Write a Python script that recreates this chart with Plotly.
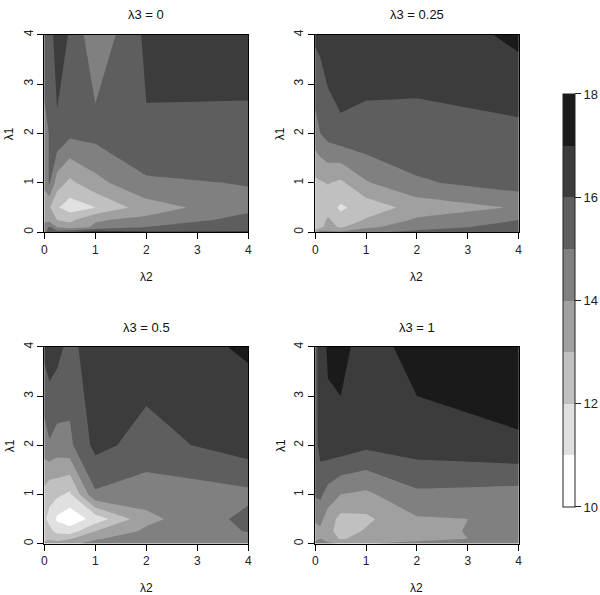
import plotly.graph_objects as go

# grid of the tuning parameters (same for both axes)
lam2 = [0, 0.1, 0.25, 0.5, 1, 2, 4]   # x axis (λ2)
lam1 = [0, 0.1, 0.25, 0.5, 1, 2, 4]   # y axis (λ1)

panel_titles = ["λ3 = 0", "λ3 = 0.25", "λ3 = 0.5", "λ3 = 1"]

# z values: rows follow lam1 (y), columns follow lam2 (x)
z_l3_0 = [
    [14.5, 15.8, 15.5, 16.0, 16.8, 16.2, 16.1],
    [14.2, 15.2, 14.0, 13.5, 14.16, 15.05, 15.7],
    [13.9, 13.6, 13.0, 12.75, 13.92, 14.22, 15.4],
    [13.5, 13.1, 12.1, 11.5, 11.98, 13.54, 14.7],
    [14.2, 15.1, 13.47, 12.75, 13.67, 14.84, 15.05],
    [14.7, 15.05, 15.9, 15.25, 15.35, 15.91, 15.55],
    [15.6, 15.73, 16.3, 15.95, 14.2, 16.2, 16.9],
]
z_l3_025 = [
    [13.5, 14.5, 14.3, 14.2, 14.8, 15.3, 15.9],
    [12.6, 12.8, 13.3, 12.9, 13.8, 14.6, 15.4],
    [12.3, 12.4, 13.2, 12.3, 13.1, 14.15, 15.0],
    [12.2, 12.2, 12.4, 11.85, 12.4, 13.4, 14.1],
    [12.8, 12.9, 13.05, 12.8, 13.9, 14.85, 15.5],
    [14.6, 15.0, 15.4, 15.75, 15.8, 15.9, 15.75],
    [16.2, 16.3, 16.7, 16.95, 16.4, 16.18, 17.27],
]
z_l3_05 = [
    [13.2, 13.3, 13.5, 13.8, 14.3, 14.6, 14.6],
    [12.8, 12.9, 12.5, 12.9, 13.9, 14.5, 14.7],
    [12.3, 12.2, 11.8, 11.5, 13.0, 14.2, 15.05],
    [12.1, 11.8, 10.8, 10.3, 11.4, 13.72, 15.3],
    [12.7, 12.2, 12.2, 11.8, 14.85, 14.5, 14.75],
    [14.5, 14.9, 14.6, 14.8, 16.3, 15.6, 16.5],
    [16.3, 16.6, 16.4, 15.6, 16.8, 16.6, 17.1],
]
z_l3_1 = [
    [14.3, 14.5, 14.2, 13.9, 14.0, 14.3, 14.6],
    [13.7, 14.0, 13.5, 12.9, 13.3, 13.7, 14.3],
    [13.6, 13.8, 13.3, 12.6, 13.1, 13.8, 14.25],
    [14.2, 14.3, 13.5, 12.7, 12.8, 13.9, 14.1],
    [15.1, 15.2, 14.6, 14.0, 13.8, 14.8, 14.6],
    [15.6, 16.4, 16.6, 16.6, 16.22, 16.49, 16.85],
    [15.8, 16.3, 17.19, 17.4, 16.4, 17.51, 17.8],
]
panel_z = [z_l3_0, z_l3_025, z_l3_05, z_l3_1]

levels = [10, 11, 12, 13, 14, 15, 16, 17, 18]
colorbar_ticks = [10, 12, 14, 16, 18]
axis_ticks = [0, 1, 2, 3, 4]
gray_colors = ["#ffffff", "#e0e0e0", "#c0c0c0", "#a0a0a0",
               "#808080", "#5e5e5e", "#3c3c3c", "#1a1a1a"]

n = len(gray_colors)
# stepwise colorscale for the contour fills (band k sampled at k/(n-1))
cs_contour = []
for k, c in enumerate(gray_colors):
    lo = max(0.0, (k - 0.5) / (n - 1))
    hi = min(1.0, (k + 0.5) / (n - 1))
    cs_contour += [[lo, c], [hi, c]]
# stepwise colorscale for the key (10..18)
cs_bar = []
for k, c in enumerate(gray_colors):
    cs_bar += [[k / n, c], [(k + 1) / n, c]]

W, H = 600, 595
# plot areas in pixels (left, right, top, bottom)
boxes = [(42, 249, 30, 230), (317, 523.5, 30, 230),
         (42, 249, 346, 545), (317, 523.5, 346, 545)]

fig = go.Figure()
font_family = "Liberation Sans, Arial, sans-serif"


def note(text, px, py, size, angle=0):
    fig.add_annotation(text=text, x=px / W, y=1 - py / H, xref="paper", yref="paper",
                       xanchor="center", yanchor="middle", showarrow=False,
                       textangle=angle,
                       font=dict(size=size, color="#111", family=font_family))


for i, (z, box) in enumerate(zip(panel_z, boxes)):
    ax = "" if i == 0 else str(i + 1)
    fig.add_trace(go.Contour(
        x=lam2, y=lam1, z=z,
        autocontour=False,
        contours=dict(start=levels[1], end=levels[-2], size=1,
                      coloring="fill", showlines=False),
        line=dict(width=0, smoothing=0),
        colorscale=cs_contour, showscale=False,
        xaxis="x" + ax, yaxis="y" + ax, hoverinfo="skip",
    ))
    l, r, t, b = box
    common = dict(range=[0, 4], tickvals=axis_ticks, ticks="outside", ticklen=6,
                  tickcolor="#000", showline=True, linecolor="#000", linewidth=1,
                  mirror=True, showgrid=False, zeroline=False,
                  tickfont=dict(size=12, color="#222", family=font_family))
    fig.layout["xaxis" + ax] = dict(domain=[l / W, r / W], anchor="y" + ax, **common)
    fig.layout["yaxis" + ax] = dict(domain=[1 - b / H, 1 - t / H], anchor="x" + ax,
                                    tickangle=-90, **common)
    cx = (l + r) / 2
    cy = (t + b) / 2
    note(panel_titles[i], cx, t - 20, 13)
    note("λ2", cx, b + 45, 12)
    note("λ1", l - 35, cy, 12, angle=-90)

# colour key
fig.add_trace(go.Scatter(
    x=[None], y=[None], mode="markers", showlegend=False, hoverinfo="skip",
    marker=dict(color=[levels[0]], cmin=levels[0], cmax=levels[-1],
                colorscale=cs_bar, showscale=True,
                colorbar=dict(thickness=12, thicknessmode="pixels",
                              len=(508 - 90) / H, lenmode="fraction",
                              x=569 / W, xanchor="left", xpad=0,
                              y=1 - 299 / H, yanchor="middle", ypad=0,
                              outlinewidth=1, outlinecolor="#222",
                              tickvals=colorbar_ticks, ticks="outside",
                              ticklen=6, tickcolor="#222",
                              tickfont=dict(size=13, color="#222", family=font_family))),
))

fig.update_layout(width=W, height=H, margin=dict(l=0, r=0, t=0, b=0),
                  paper_bgcolor="white", plot_bgcolor="white", showlegend=False)

fig.write_html("out.html", config={"displayModeBar": False},
               post_script="document.body.style.margin='0px';")
